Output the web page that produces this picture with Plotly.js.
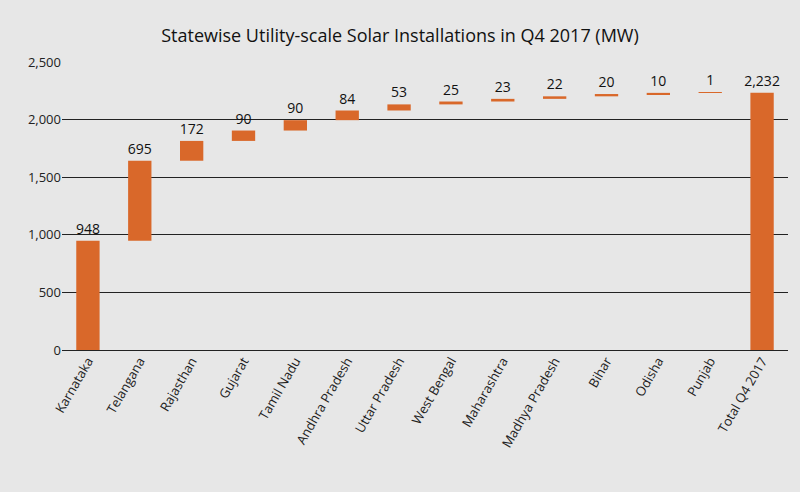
<!DOCTYPE html>
<html><head><meta charset="utf-8">
<script src="https://cdn.plot.ly/plotly-3.0.1.min.js"></script>
<style>body{margin:0;background:#e7e7e7}</style>
</head><body>
<div id="plt" style="width:800px;height:492px"></div>
<script>
var states = ['Karnataka','Telangana','Rajasthan','Gujarat','Tamil Nadu','Andhra Pradesh','Uttar Pradesh','West Bengal','Maharashtra','Madhya Pradesh','Bihar','Odisha','Punjab','Total Q4 2017'];
var values = [948, 695, 172, 90, 90, 84, 53, 25, 23, 22, 20, 10, 1, 2232];
var measures = ['absolute','relative','relative','relative','relative','relative','relative','relative','relative','relative','relative','relative','relative','absolute'];
var labels = values.map(v => v.toLocaleString('en-US'));

var d = [{
    type: 'waterfall',
    x: states,
    y: values,
    measure: measures,
    text: labels,
    textposition: 'outside',
    constraintext: 'none',
    textfont: {size: 14, color: '#111', family: 'Open Sans'},
    cliponaxis: false,
    connector: {visible: false},
    increasing: {marker: {color: '#d9682a'}},
    totals: {marker: {color: '#d9682a'}},
    decreasing: {marker: {color: '#d9682a'}},
    width: 0.45
}];
var l = {
    width: 800, height: 492,
    paper_bgcolor: '#e7e7e7', plot_bgcolor: '#e7e7e7',
    margin: {l: 62, r: 12, t: 62, b: 142},
    font: {family: 'Open Sans', color: '#222', size: 13},
    title: {text: 'Statewise Utility-scale Solar Installations in Q4 2017 (MW)', x: 0.5, y: 0.94, font: {size: 18, color: '#111'}},
    showlegend: false,
    xaxis: {tickangle: -60, showgrid: false, tickfont: {size: 13}},
    yaxis: {range: [0, 2500], dtick: 500, tickformat: ',', gridcolor: '#222', gridwidth: 1, zeroline: true, zerolinecolor: '#222', tickfont: {size: 13}, ticks: '', ticklen: 8, tickcolor: 'rgba(0,0,0,0)'}
};
Plotly.newPlot('plt', d, l, {displayModeBar: false});
</script>
</body></html>
